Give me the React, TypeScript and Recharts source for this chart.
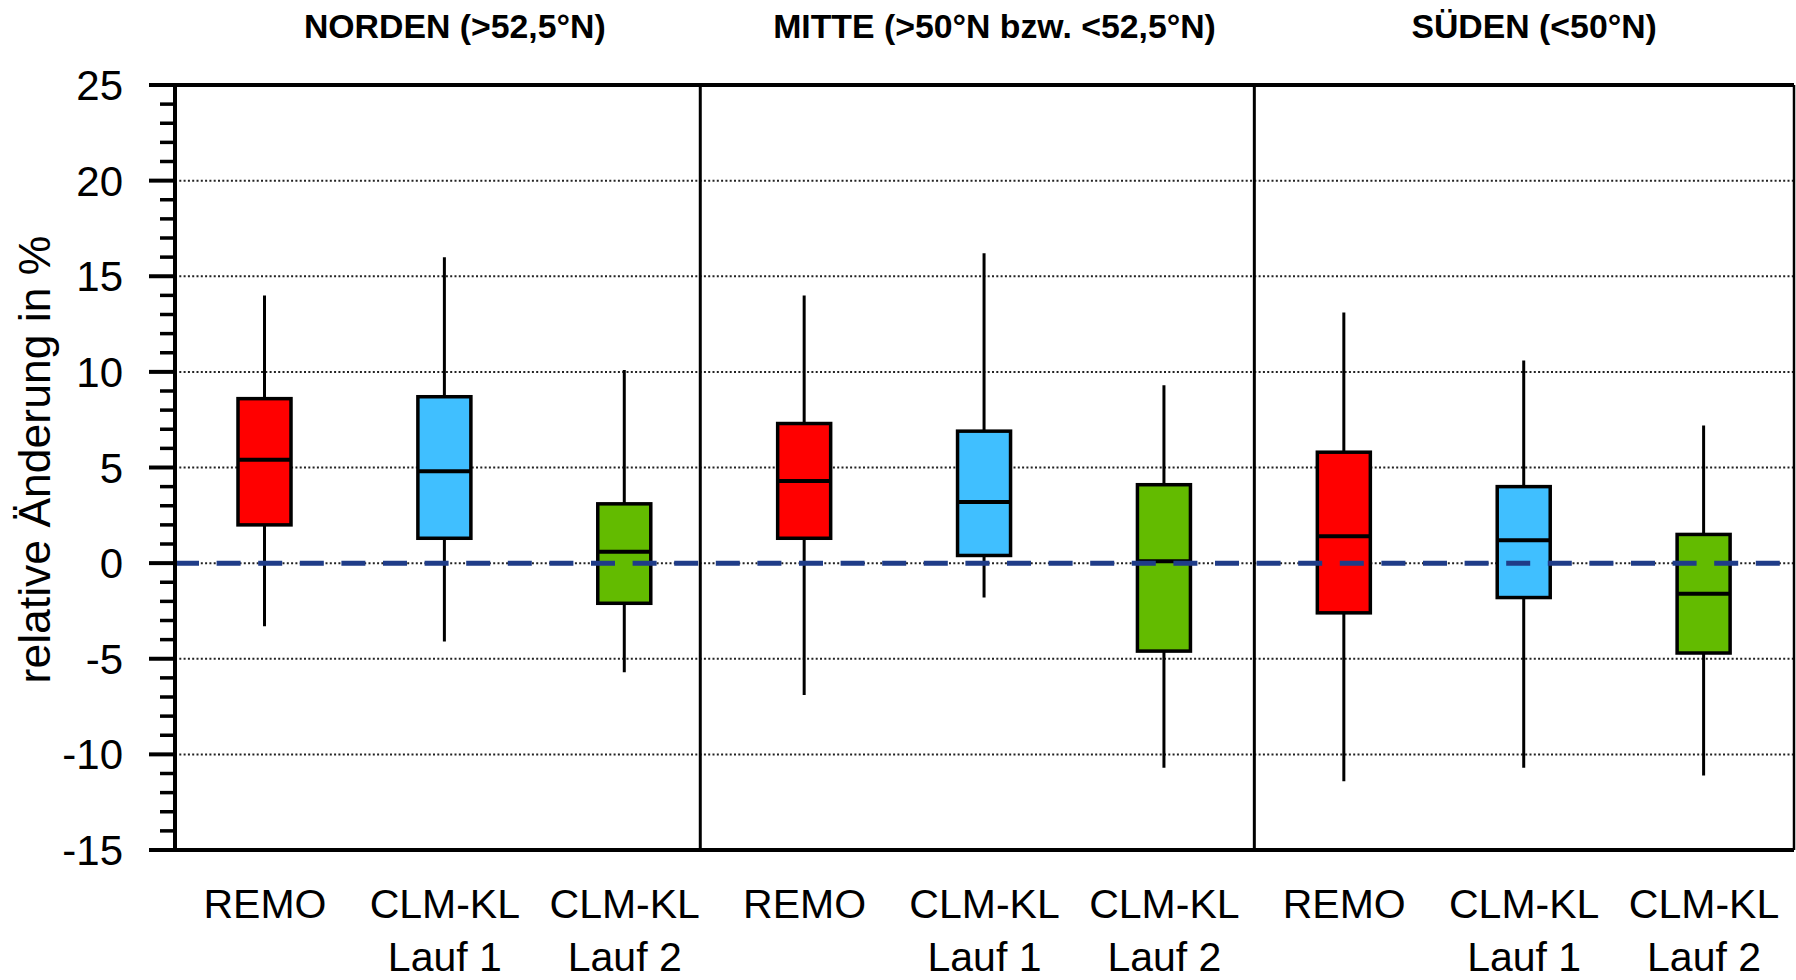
import React from 'react';
import { ComposedChart, Bar, XAxis, YAxis, ReferenceLine, CartesianGrid } from 'recharts';

// Model runs per region (three regions x three runs)
const categories = [
  'REMO', 'CLM-KL\nLauf 1', 'CLM-KL\nLauf 2',
  'REMO', 'CLM-KL\nLauf 1', 'CLM-KL\nLauf 2',
  'REMO', 'CLM-KL\nLauf 1', 'CLM-KL\nLauf 2',
];
const regionTitles = ['NORDEN (>52,5°N)', 'MITTE (>50°N bzw. <52,5°N)', 'SÜDEN (<50°N)'];
const yAxisTitle = 'relative Änderung in %';

// Box plot statistics (relative change in %)
const minValues = [-3.3, -4.1, -5.7, -6.9, -1.8, -10.7, -11.4, -10.7, -11.1];
const q1Values = [2.0, 1.3, -2.1, 1.3, 0.4, -4.6, -2.6, -1.8, -4.7];
const medianValues = [5.4, 4.8, 0.6, 4.3, 3.2, 0.1, 1.4, 1.2, -1.6];
const q3Values = [8.6, 8.7, 3.1, 7.3, 6.9, 4.1, 5.8, 4.0, 1.5];
const maxValues = [14.0, 16.0, 10.1, 14.0, 16.2, 9.3, 13.1, 10.6, 7.2];

const modelColors = ['#FF0000', '#40BFFF', '#63BB00'];

const majorTicks = [-15, -10, -5, 0, 5, 10, 15, 20, 25];
const gridValues = [20, 15, 10, 5, 0, -5, -10];
// Region boundaries and region title anchors, in category slots
const regionDividers = [2.92, 6];
const regionCenters = [1.5, 4.5, 7.5];

const FONT = '"Liberation Sans", Arial, Helvetica, sans-serif';

const minorStep = 1;
const allTicks: number[] = [];
for (let v = majorTicks[0]; v <= majorTicks[majorTicks.length - 1]; v += minorStep) allTicks.push(v);

const data = categories.map((name, i) => ({
  name,
  slot: i + 0.5,
  min: minValues[i],
  q1: q1Values[i],
  median: medianValues[i],
  q3: q3Values[i],
  max: maxValues[i],
  color: modelColors[i % 3],
}));

const BoxShape = (props: any) => {
  const { x, y, width, height, payload } = props;
  const { min, q1, median, q3, max, color } = payload;
  const k = height / (max - min);
  const py = (v: number) => y + (max - v) * k;
  const cx = x + width / 2;
  return (
    <g>
      <line x1={cx} x2={cx} y1={y} y2={y + height} stroke="#000" strokeWidth={3} />
      <rect x={x} y={py(q3)} width={width} height={py(q1) - py(q3)} fill={color} stroke="#000" strokeWidth={3.5} />
      <line x1={x} x2={x + width} y1={py(median)} y2={py(median)} stroke="#000" strokeWidth={4} />
    </g>
  );
};

const YTick = (props: any) => {
  const { x, y, payload } = props;
  const v = payload.value as number;
  const major = majorTicks.includes(v);
  return (
    <g>
      <line x1={x - (major ? 26 : 15)} x2={x} y1={y} y2={y} stroke="#000" strokeWidth={major ? 4 : 3.5} />
      {major && (
        <text x={x - 52} y={y + 15} textAnchor="end" fontSize={42} fontFamily={FONT} fill="#000">
          {String(v)}
        </text>
      )}
    </g>
  );
};

const XTick = (props: any) => {
  const { x, y, payload } = props;
  const lines = String(payload.value).split('\n');
  return (
    <text textAnchor="middle" fontSize={41} fontFamily={FONT} fill="#000">
      {lines.map((t, i) => (
        <tspan key={i} x={x} y={y + 68 + i * 53}>{t}</tspan>
      ))}
    </text>
  );
};

const RegionTick = (props: any) => {
  const { x, y, payload } = props;
  const idx = regionCenters.indexOf(payload.value);
  return (
    <text x={x + 10} y={y - 47} textAnchor="middle" fontSize={33.8} fontWeight="bold" fontFamily={FONT} fill="#000">
      {regionTitles[idx] ?? ''}
    </text>
  );
};

const AxisTitle = (p: any) => {
  const vb = p.viewBox || { y: 85, height: 765 };
  return (
    <text
      transform={`translate(50, ${vb.y + vb.height / 2 - 8}) rotate(-90)`}
      textAnchor="middle"
      fontSize={44.5}
      fontFamily={FONT}
      fill="#000"
    >
      {yAxisTitle}
    </text>
  );
};

export default function App() {
  return (
    <div style={{ position: 'absolute', left: 0, top: 0, width: 1796, height: 980, background: '#fff', fontFamily: FONT }}>
      <ComposedChart width={1796} height={980} data={data} margin={{ top: 0, right: 2, bottom: 10, left: 0 }}>
        <CartesianGrid
          xAxisId="num"
          vertical={false}
          horizontalValues={gridValues}
          stroke="#222"
          strokeWidth={2}
          strokeDasharray="2 2.3"
        />
        <XAxis
          xAxisId="cat"
          dataKey="name"
          type="category"
          orientation="bottom"
          height={120}
          axisLine={false}
          tickLine={false}
          tickSize={0}
          tickMargin={0}
          interval={0}
          tick={<XTick />}
        />
        <XAxis
          xAxisId="num"
          dataKey="slot"
          type="number"
          orientation="top"
          domain={[0, categories.length]}
          allowDataOverflow
          ticks={regionCenters}
          height={85}
          axisLine={false}
          tickLine={false}
          tickSize={0}
          tickMargin={0}
          interval={0}
          tick={<RegionTick />}
        />
        <YAxis
          type="number"
          domain={[majorTicks[0], majorTicks[majorTicks.length - 1]]}
          ticks={allTicks}
          interval={0}
          width={175}
          tickSize={0}
          tickMargin={0}
          tickLine={false}
          axisLine={{ stroke: '#000', strokeWidth: 4 }}
          tick={<YTick />}
          label={{ content: <AxisTitle /> }}
        />
        <ReferenceLine xAxisId="num" y={majorTicks[majorTicks.length - 1]} stroke="#000" strokeWidth={4} />
        <ReferenceLine xAxisId="num" y={majorTicks[0]} stroke="#000" strokeWidth={4} />
        {regionDividers.map((d) => (
          <ReferenceLine key={d} xAxisId="num" x={d} stroke="#000" strokeWidth={3} />
        ))}
        <ReferenceLine xAxisId="num" x={categories.length} stroke="#000" strokeWidth={2.5} />
        <Bar
          xAxisId="cat"
          dataKey={(d: any) => [d.min, d.max]}
          barSize={53}
          shape={<BoxShape />}
          isAnimationActive={false}
        />
        <ReferenceLine xAxisId="num" y={0} stroke="#1F3C88" strokeWidth={5} strokeDasharray="24 17.6" />
      </ComposedChart>
    </div>
  );
}
